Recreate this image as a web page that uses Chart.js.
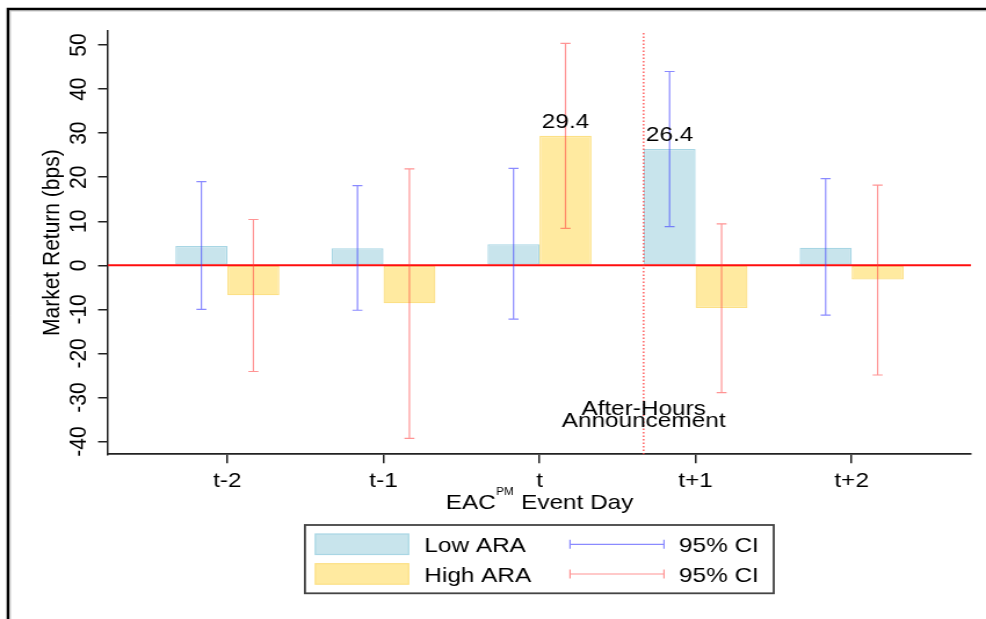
<!DOCTYPE html>
<html>
<head>
<meta charset="utf-8">
<script src="https://cdn.jsdelivr.net/npm/chart.js@4.4.1/dist/chart.umd.min.js"></script>
<style>
	html, body { margin: 0; padding: 0; background: #fff; }
</style>
</head>
<body>
<!-- canvas is drawn 850 wide and stretched to 986 like the original export -->
<canvas id="returnChart" width="850" height="619" style="display:block;width:986px;height:619px"></canvas>
<script>
// event days and tick labels
const days = ['t-2', 't-1', 't', 't+1', 't+2'];
const yTicks = [-40, -30, -20, -10, 0, 10, 20, 30, 40, 50];

// mean market return (bps)
const lowAra = [4.4, 3.9, 4.8, 26.4, 4.0];
const highAra = [-6.8, -8.6, 29.4, -9.7, -3.2];

// 95% confidence intervals
const lowCiLo = [-10.0, -10.2, -12.2, 8.8, -11.3];
const lowCiHi = [19.0, 18.1, 22.0, 44.0, 19.7];
const highCiLo = [-24.1, -39.3, 8.4, -28.9, -24.9];
const highCiHi = [10.4, 21.9, 50.4, 9.4, 18.2];

// value labels shown above some bars
const lowNotes = [null, null, null, '26.4', null];
const highNotes = [null, null, '29.4', null, null];

// after-hours marker
const announceX = 2.667;
const announceText = ['After-Hours', 'Announcement'];
const announceY = [-34.0, -36.8];

const FONT = '"Liberation Sans", Arial, Helvetica, sans-serif';
const TEXT = '#000';
const lowFill = 'rgb(200, 228, 236)';
const lowBorder = 'rgb(168, 214, 228)';
const highFill = 'rgb(255, 234, 160)';
const highBorder = 'rgb(252, 224, 134)';
const blueCi = 'rgba(60, 60, 255, 0.6)';
const redCi = 'rgba(255, 60, 60, 0.55)';

function drawCi(ctx, x, top, bottom, half) {
	ctx.beginPath();
	ctx.moveTo(x, top);
	ctx.lineTo(x, bottom);
	ctx.moveTo(x - half, top);
	ctx.lineTo(x + half, top);
	ctx.moveTo(x - half, bottom);
	ctx.lineTo(x + half, bottom);
	ctx.stroke();
}

const overlay = {
	id: 'overlay',
	afterDatasetsDraw(chart) {
		const ctx = chart.ctx;
		const area = chart.chartArea;
		const xs = chart.scales.x;
		const ys = chart.scales.y;
		ctx.save();

		// zero line
		const y0 = ys.getPixelForValue(0);
		ctx.strokeStyle = 'rgba(255, 0, 0, 0.95)';
		ctx.lineWidth = 2;
		ctx.beginPath();
		ctx.moveTo(area.left, y0);
		ctx.lineTo(area.right, y0);
		ctx.stroke();

		// dotted announcement line
		const ax = xs.getPixelForValue(announceX);
		ctx.setLineDash([1.5, 2]);
		ctx.lineWidth = 1.4;
		ctx.strokeStyle = 'rgba(255, 70, 70, 0.9)';
		ctx.beginPath();
		ctx.moveTo(ax, area.top + 2);
		ctx.lineTo(ax, area.bottom);
		ctx.stroke();
		ctx.setLineDash([]);

		// error bars
		const sets = [[lowCiLo, lowCiHi, blueCi], [highCiLo, highCiHi, redCi]];
		sets.forEach(([lo, hi, color], d) => {
			const meta = chart.getDatasetMeta(d);
			ctx.strokeStyle = color;
			ctx.lineWidth = 1.2;
			meta.data.forEach((bar, i) => {
				drawCi(ctx, bar.x, ys.getPixelForValue(hi[i]), ys.getPixelForValue(lo[i]), 4.3);
			});
		});

		// value labels
		ctx.fillStyle = TEXT;
		ctx.font = '21px ' + FONT;
		ctx.textAlign = 'center';
		ctx.textBaseline = 'alphabetic';
		[[lowNotes, lowAra], [highNotes, highAra]].forEach(([notes, vals], d) => {
			const meta = chart.getDatasetMeta(d);
			notes.forEach((txt, i) => {
				if (!txt) return;
				ctx.fillText(txt, meta.data[i].x, ys.getPixelForValue(vals[i]) - 8);
			});
		});

		// announcement text
		announceText.forEach((txt, i) => {
			ctx.fillText(txt, ax, ys.getPixelForValue(announceY[i]));
		});
		ctx.restore();
	},
	afterDraw(chart) {
		const ctx = chart.ctx;
		const area = chart.chartArea;
		ctx.save();

		// outer frame
		ctx.strokeStyle = '#c8c8c8';
		ctx.lineWidth = 1;
		ctx.beginPath();
		ctx.moveTo(8.9, 640);
		ctx.lineTo(8.9, 11);
		ctx.lineTo(900, 11);
		ctx.stroke();
		ctx.strokeStyle = '#000';
		ctx.lineWidth = 2.4;
		ctx.beginPath();
		ctx.moveTo(6.9, 640);
		ctx.lineTo(6.9, 9);
		ctx.lineTo(900, 9);
		ctx.stroke();

		// x axis title with superscript
		ctx.fillStyle = TEXT;
		ctx.textBaseline = 'alphabetic';
		ctx.textAlign = 'left';
		const big = '21px ' + FONT;
		const small = '10px ' + FONT;
		ctx.font = big;
		const w1 = ctx.measureText('EAC').width;
		const w3 = ctx.measureText(' Event Day').width;
		ctx.font = small;
		const w2 = ctx.measureText('PM').width + 1;
		let tx = (area.left + area.right) / 2 - (w1 + w2 + w3) / 2;
		ctx.font = big;
		ctx.fillText('EAC', tx, 508.7);
		ctx.font = small;
		ctx.fillText('PM', tx + w1 + 0.5, 495);
		ctx.font = big;
		ctx.fillText(' Event Day', tx + w1 + w2, 508.7);

		// legend
		ctx.strokeStyle = '#444';
		ctx.lineWidth = 1.8;
		ctx.strokeRect(262.9, 525, 404.1, 68.3);
		const rows = [
			['Low ARA', lowFill, lowBorder, blueCi, 534, 551.7],
			['High ARA', highFill, highBorder, redCi, 563.7, 581.7]
		];
		rows.forEach(([name, fill, border, ci, top, base]) => {
			ctx.fillStyle = fill;
			ctx.fillRect(271.8, top, 80.5, 20.5);
			ctx.strokeStyle = border;
			ctx.lineWidth = 1.2;
			ctx.strokeRect(271.8, top, 80.5, 20.5);
			ctx.fillStyle = TEXT;
			ctx.font = big;
			ctx.fillText(name, 365.8, base);
			ctx.fillText('95% CI', 585.3, base);
			ctx.strokeStyle = ci;
			ctx.lineWidth = 1.2;
			const mid = top + 10.3;
			ctx.beginPath();
			ctx.moveTo(491.4, mid);
			ctx.lineTo(572.4, mid);
			ctx.moveTo(491.4, mid - 4.5);
			ctx.lineTo(491.4, mid + 4.5);
			ctx.moveTo(572.4, mid - 4.5);
			ctx.lineTo(572.4, mid + 4.5);
			ctx.stroke();
		});
		ctx.restore();
	}
};

const ctx = document.getElementById('returnChart').getContext('2d');
const config = {
	type: 'bar',
	data: {
		datasets: [
			{
				label: 'Low ARA',
				data: lowAra.map((v, i) => ({ x: i, y: v })),
				backgroundColor: lowFill,
				borderColor: lowBorder,
				borderWidth: 1.3,
				borderSkipped: false
			},
			{
				label: 'High ARA',
				data: highAra.map((v, i) => ({ x: i, y: v })),
				backgroundColor: highFill,
				borderColor: highBorder,
				borderWidth: 1.3,
				borderSkipped: false
			}
		]
	},
	options: {
		responsive: false,
		devicePixelRatio: 1,
		animation: false,
		categoryPercentage: 0.666,
		barPercentage: 1,
		layout: { padding: { left: 0, right: 12.9, top: 31, bottom: 0 } },
		plugins: {
			legend: { display: false },
			tooltip: { enabled: false }
		},
		scales: {
			x: {
				type: 'linear',
				min: -0.765,
				max: 4.765,
				offset: false,
				afterBuildTicks: s => { s.ticks = days.map((d, i) => ({ value: i })); },
				afterFit: s => { s.height = 164.7; },
				border: { color: '#222', width: 1.7 },
				grid: { offset: false, drawOnChartArea: false, tickLength: 9, color: '#222', lineWidth: 1.5 },
				ticks: {
					callback: v => days[v],
					autoSkip: false,
					maxRotation: 0,
					padding: 5,
					color: TEXT,
					font: { family: FONT, size: 21 }
				}
			},
			y: {
				type: 'linear',
				min: -42.9,
				max: 53.2,
				afterBuildTicks: s => { s.ticks = yTicks.map(v => ({ value: v })); },
				afterFit: s => { s.width = 93.1; },
				border: { color: '#222', width: 1.5 },
				grid: { drawOnChartArea: false, tickLength: 8.6, color: '#222', lineWidth: 1.5 },
				ticks: {
					minRotation: 90,
					maxRotation: 90,
					crossAlign: 'center',
					autoSkip: false,
					padding: 1,
					color: TEXT,
					font: { family: FONT, size: 21 }
				},
				title: {
					display: true,
					text: 'Market Return (bps)',
					color: TEXT,
					font: { family: FONT, size: 21 },
					padding: { top: 33, bottom: 0 }
				}
			}
		}
	},
	plugins: [overlay]
};

let returnChart = new Chart(ctx, config);
</script>
</body>
</html>
